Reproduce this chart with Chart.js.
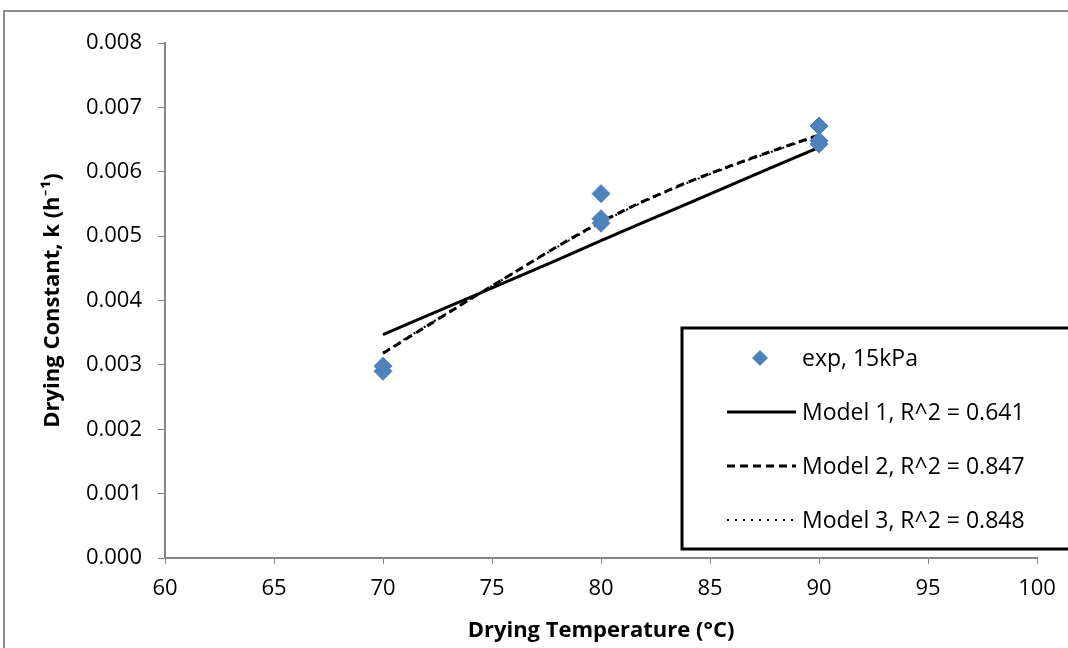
<!DOCTYPE html>
<html>
<head>
<meta charset="utf-8" />
<title>Drying constant</title>
<script src="https://cdn.jsdelivr.net/npm/chart.js@4.4.0/dist/chart.umd.min.js"></script>
<style>
  body { margin: 0; background: #fff; }
  #rahmen { position: absolute; left: 3px; top: 10px; width: 1100px; height: 700px; border: 2px solid #8c8c8c; }
  canvas { position: absolute; left: 0; top: 0; }
</style>
<script>
// experimental points (temperature, k)
const expT = [70, 70, 80, 80, 80, 90, 90, 90];
const expK = [0.00298, 0.00290, 0.00566, 0.00527, 0.00520, 0.00671, 0.00648, 0.00643];

// model curves
const modelT = [70, 72, 74, 76, 78, 80, 82, 84, 86, 88, 90];
const model1 = [0.00347, 0.00376, 0.00405, 0.00434, 0.00463, 0.00493, 0.00522, 0.00551, 0.00580, 0.00609, 0.00638];
const model2 = [0.00318, 0.00360, 0.00402, 0.00443, 0.00484, 0.00522, 0.00555, 0.00584, 0.00610, 0.00634, 0.00657];
const model3 = [0.00319, 0.00361, 0.00402, 0.00443, 0.00483, 0.00521, 0.00554, 0.00583, 0.00609, 0.00633, 0.00656];

const legendLabels = ["exp, 15kPa", "Model 1, R^2 = 0.641", "Model 2, R^2 = 0.847", "Model 3, R^2 = 0.848"];
const xTicks = [60, 65, 70, 75, 80, 85, 90, 95, 100];

function pts(xs, ys) { return xs.map((x, i) => ({ x: x, y: ys[i] })); }

const fontName = "'Open Sans', Lato, sans-serif";

// legend drawn in its own box like in the original
const kastLegend = {
  id: 'kastLegend',
  afterDraw(chart) {
    const c = chart.ctx;
    c.save();
    c.lineWidth = 3;
    c.strokeStyle = '#000';
    c.strokeRect(682, 328, 400, 221);
    c.font = "23px " + fontName;
    c.textBaseline = 'middle';
    const rows = [358, 412, 466, 520];
    chart.data.datasets.forEach(function (ds, i) {
      const y = rows[i];
      if (i == 0) {
        c.fillStyle = ds.backgroundColor;
        c.beginPath();
        c.moveTo(760, y - 8); c.lineTo(768, y); c.lineTo(760, y + 8); c.lineTo(752, y);
        c.closePath(); c.fill();
      } else {
        c.strokeStyle = '#000';
        c.lineWidth = ds.borderWidth;
        c.setLineDash(i == 3 ? [2, 6] : (ds.borderDash || []));
        c.beginPath(); c.moveTo(727, y); c.lineTo(796, y); c.stroke();
        c.setLineDash([]);
      }
      c.fillStyle = '#000';
      c.fillText(ds.label, 802, y + 1);
    });
    c.restore();
  }
};

window.onload = function () {
  Chart.defaults.font.family = fontName;
  Chart.defaults.color = '#000';
  new Chart(document.getElementById("joonis"), {
    type: 'scatter',
    data: {
      datasets: [
        { label: legendLabels[0], data: pts(expT, expK), pointStyle: 'rectRot', pointRadius: 9,
          backgroundColor: '#4F81BD', borderColor: '#4F81BD', showLine: false, order: 0 },
        { label: legendLabels[1], data: pts(modelT, model1), showLine: true, pointRadius: 0,
          borderColor: '#000', borderWidth: 3, order: 2 },
        { label: legendLabels[2], data: pts(modelT, model2), showLine: true, pointRadius: 0,
          borderColor: '#000', borderWidth: 3, borderDash: [8, 5], cubicInterpolationMode: 'monotone', order: 1 },
        { label: legendLabels[3], data: pts(modelT, model3), showLine: true, pointRadius: 0,
          borderColor: '#000', borderWidth: 2, borderDash: [2, 4], cubicInterpolationMode: 'monotone', order: 3 }
      ]
    },
    options: {
      responsive: false,
      animation: false,
      layout: { padding: { left: 36, top: 43, right: 31, bottom: 0 } },
      plugins: { legend: { display: false }, tooltip: { enabled: false } },
      scales: {
        x: {
          type: 'linear', min: 60, max: 100,
          afterBuildTicks(s) { s.ticks = xTicks.map(v => ({ value: v })); },
          afterFit(s) { s.height = 90; },
          grid: { drawOnChartArea: false, tickLength: 6, color: '#868686' },
          border: { color: '#868686', width: 2 },
          ticks: { font: { size: 22 }, padding: 12 },
          title: { display: true, text: 'Drying Temperature (°C)', font: { size: 22, weight: 'bold' }, padding: { top: 5 } }
        },
        y: {
          min: 0, max: 0.008,
          ticks: { stepSize: 0.001, font: { size: 22 }, padding: 16, callback: v => v.toFixed(3) },
          afterFit(s) { s.width = 129; },
          grid: { drawOnChartArea: false, tickLength: 7, color: '#868686' },
          border: { color: '#868686', width: 2 },
          title: { display: true, text: 'Drying Constant, k (h⁻¹)', font: { size: 22, weight: 'bold' } }
        }
      }
    },
    plugins: [kastLegend]
  });
};
</script>
</head>
<body>
<div id="rahmen"></div>
<canvas id="joonis" width="1068" height="648"></canvas>
</body>
</html>
